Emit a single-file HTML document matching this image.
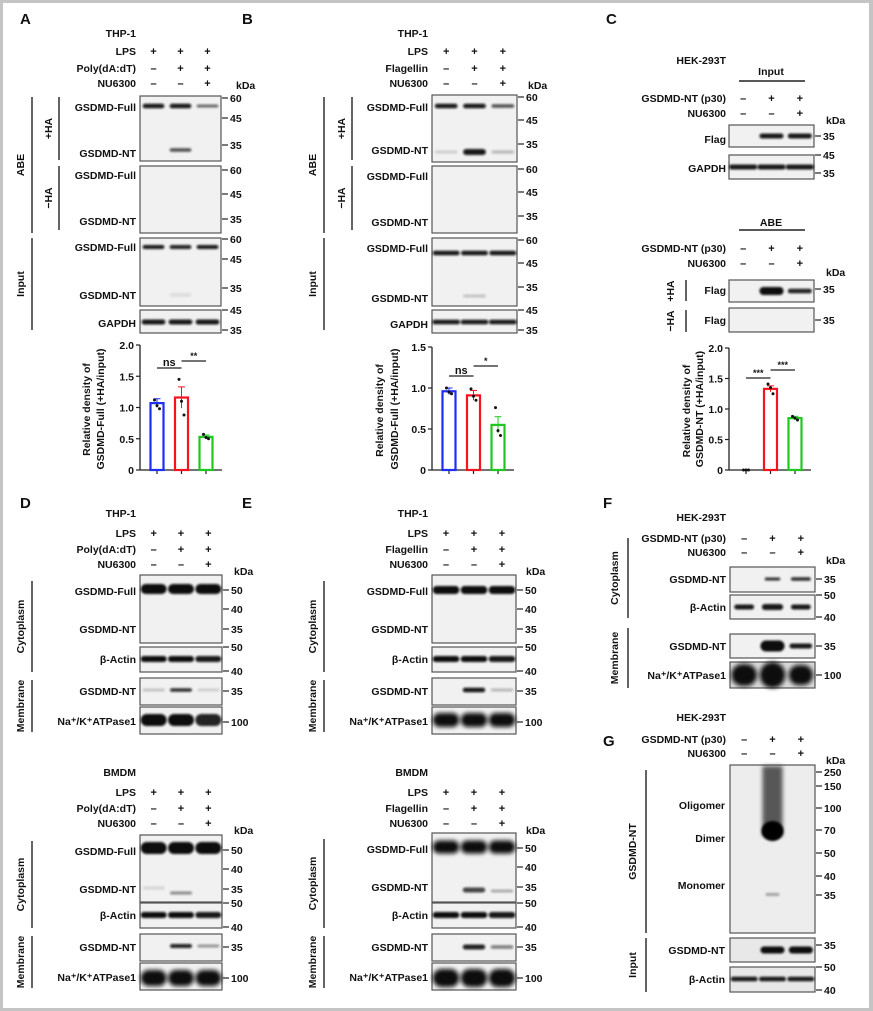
<!DOCTYPE html>
<html><head><meta charset="utf-8"><style>
html,body{margin:0;padding:0;background:#fff}
#wrap{position:absolute;left:0;top:0;width:873px;height:1011px;box-sizing:border-box;border:3px solid #c4c4c4;border-right-width:4px}
svg{position:absolute;left:0;top:0}
text{font-family:"Liberation Sans",Arial,sans-serif;font-weight:bold;fill:#111}
</style></head><body>
<div id="wrap"></div>
<svg id="fig" width="873" height="1011" viewBox="0 0 873 1011">
<defs><filter id="bl" x="-20%" y="-100%" width="140%" height="300%"><feGaussianBlur stdDeviation="1.1"/></filter>
<filter id="bl2" x="-20%" y="-50%" width="140%" height="200%"><feGaussianBlur stdDeviation="2.2"/></filter></defs>
</svg>
<script>
// ---- chart data ----
const catsA = ['LPS', 'LPS+Poly(dA:dT)', 'LPS+Poly(dA:dT)+NU6300'];
const valsA = [1.07, 1.16, 0.53];
const errsA = [0.07, 0.17, 0.03];
const ptsA = [[1.12, 1.03, 0.98], [1.45, 1.10, 0.88], [0.57, 0.52, 0.50]];
const ticksA = [0, 0.5, 1.0, 1.5, 2.0];
const catsB = ['LPS', 'LPS+Flagellin', 'LPS+Flagellin+NU6300'];
const valsB = [0.96, 0.91, 0.55];
const errsB = [0.04, 0.06, 0.10];
const ptsB = [[1.0, 0.95, 0.93], [0.99, 0.90, 0.85], [0.76, 0.48, 0.42]];
const ticksB = [0, 0.5, 1.0, 1.5];
const catsC = ['Control', 'GSDMD-NT', 'GSDMD-NT+NU6300'];
const valsC = [0, 1.33, 0.85];
const errsC = [0, 0.05, 0.03];
const ptsC = [[0, 0, 0], [1.41, 1.35, 1.25], [0.88, 0.85, 0.82]];
const ticksC = [0, 0.5, 1.0, 1.5, 2.0];
const barColors = ['#1d2df5', '#f5141e', '#1ec81e'];

const S = document.getElementById('fig');
const NS = 'http://www.w3.org/2000/svg';
function mk(tag, a) { const e = document.createElementNS(NS, tag); for (const k in a) e.setAttribute(k, a[k]); S.appendChild(e); return e; }
function txt(x, y, s, size, anchor, name, rot) {
  const t = mk('text', { x: x, y: y, 'font-size': size || 10.5, 'text-anchor': anchor || 'end' });
  if (rot) t.setAttribute('transform', 'rotate(-90 ' + x + ' ' + y + ')');
  t.textContent = s;
  
  
  return t;
}
function line(x1, y1, x2, y2, w, name, col) {
  const l = mk('line', { x1: x1, y1: y1, x2: x2, y2: y2, stroke: col || '#222', 'stroke-width': w || 1.3 });
  
  
  return l;
}
function lanes(bx, bw) { return [0, 1, 2].map(i => bx + bw * (i + 0.5) / 3); }
function blot(bx, y, bw, h, bands, name, bg) {
  const r = mk('rect', { x: bx, y: y, width: bw, height: h, fill: bg || '#f1f1f1', stroke: '#555', 'stroke-width': 1.2 });
  
  
  const L = lanes(bx, bw);
  bands.forEach(b => {
    const w = bw / 3 * (b[4] || 0.8);
    const e = mk('rect', { x: L[b[0]] - w / 2, y: b[1] - b[3] / 2, width: w, height: b[3], rx: b[3] / 2, fill: '#0a0a0a', opacity: b[2], filter: b[3] > 12 ? 'url(#bl2)' : 'url(#bl)' });
    
    
  });
}
function kda(bx, ticks) { ticks.forEach(t => { line(bx + 1, t[1], bx + 7, t[1], 1.2, 'kda-tick'); txt(bx + 9, t[1] + 4, t[0], 10.5, 'start', 'kda-label'); }); }
function header(lx, rows, L) {
  rows.forEach(r => {
    txt(lx, r[1] + 4, r[0], 10.5, 'end', 'treatment-label');
    [0, 1, 2].forEach(i => txt(L[i], r[1] + 4, r[2][i] === '+' ? '+' : '–', 11, 'middle', 'treatment-sign'));
  });
}
function bracket(x, y1, y2, label, lx) {
  line(x, y1, x, y2, 1.4, 'bracket');
  txt(lx, (y1 + y2) / 2, label, 10.5, 'middle', 'bracket-label', true);
}
function chart(ax, yTop, y0, ymax, ticks, cats, vals, errs, pts, sig, ylx) {
  const sy = v => y0 - (y0 - yTop) * v / ymax;
  line(ax, yTop, ax, y0, 1.3, 'y-axis');
  ticks.forEach(t => { line(ax - 4, sy(t), ax, sy(t), 1.2, 'y-tick'); txt(ax - 6, sy(t) + 4, t === 0 ? '0' : t.toFixed(1), 10.5, 'end', 'y-tick-label'); });
  line(ax, y0, ax + 82, y0, 1.3, 'x-axis');
  cats.forEach((c, i) => {
    const cx = ax + 17 + i * 24.5;
    line(cx, y0, cx, y0 + 4, 1.2, 'x-tick');
    if (vals[i] > 0) {
      const b = mk('rect', { x: cx - 6.5, y: sy(vals[i]), width: 13, height: y0 - sy(vals[i]), fill: 'none', stroke: barColors[i], 'stroke-width': 2.2 });
      
      
      if (errs[i] > 0) {
        line(cx, sy(vals[i] + errs[i]), cx, sy(vals[i] - errs[i]), 1, 'error-bar', barColors[i]);
        line(cx - 3.5, sy(vals[i] + errs[i]), cx + 3.5, sy(vals[i] + errs[i]), 1, 'error-cap', barColors[i]);
      }
    }
    pts[i].forEach((p, j) => {
      const d = mk('circle', { cx: cx + (j - 1) * 2.5, cy: sy(p), r: 1.5, fill: '#111' });
      
      
    });
  });
  sig.forEach(s => {
    const x1 = ax + 17 + s[0] * 24.5, x2 = ax + 17 + s[1] * 24.5;
    line(x1, s[2], x2, s[2], 1.2, 'significance-line');
    txt((x1 + x2) / 2, s[2] - 2, s[3], s[3] === 'ns' ? 11 : 9, 'middle', 'significance-label');
  });
  txt(ylx, (yTop + y0) / 2 + 2, 'Relative density of', 10.5, 'middle', 'y-axis-title', true);
}

// ---------- Panel A ----------
(function () {
  const bx = 140, bw = 81, L = lanes(bx, bw);
  txt(20, 24, 'A', 15, 'start', 'panel-label-a');
  txt(136, 37, 'THP-1', 10.5, 'end', 'cell-line-label');
  txt(236, 89, 'kDa', 10.5, 'start', 'kda-unit');
  header(136, [['LPS', 51, '+++'], ['Poly(dA:dT)', 68, '-++'], ['NU6300', 83, '--+']], L);
  blot(bx, 96, bw, 65, [[0, 106, 0.95, 4.5], [1, 106, 0.95, 4.5], [2, 106, 0.6, 3], [1, 150, 0.7, 3.5]], 'blot-a-plus-ha');
  blot(bx, 166, bw, 67, [], 'blot-a-minus-ha');
  blot(bx, 238, bw, 68, [[0, 247, 0.95, 4], [1, 247, 0.9, 4], [2, 247, 0.95, 4], [1, 295, 0.08, 4]], 'blot-a-input');
  blot(bx, 310, bw, 23, [[0, 322, 0.95, 5, 0.88], [1, 322, 0.95, 5, 0.88], [2, 322, 0.95, 5, 0.88]], 'blot-a-gapdh');
  kda(221, [['60', 98], ['45', 118], ['35', 145], ['60', 170], ['45', 194], ['35', 219], ['60', 239], ['45', 259], ['35', 288], ['45', 310], ['35', 330]]);
  [['GSDMD-Full', 111], ['GSDMD-NT', 157], ['GSDMD-Full', 179], ['GSDMD-NT', 225], ['GSDMD-Full', 251], ['GSDMD-NT', 299], ['GAPDH', 327]].forEach(r => txt(136, r[1], r[0], 10.5, 'end', 'protein-label'));
  bracket(32, 97, 233, 'ABE', 24); bracket(59, 97, 160, '+HA', 52); bracket(59, 166, 230, '−HA', 52); bracket(32, 238, 330, 'Input', 24);
  chart(140, 345, 470, 2.0, ticksA, catsA, valsA, errsA, ptsA, [[0, 1, 368, 'ns'], [1, 2, 361, '**']], 90);
  txt(104, 409, 'GSDMD-Full (+HA/input)', 10.5, 'middle', 'y-axis-title', true);
})();

// ---------- Panel B ----------
(function () {
  const bx = 432, bw = 85, L = lanes(bx, bw);
  txt(242, 24, 'B', 15, 'start', 'panel-label-b');
  txt(428, 37, 'THP-1', 10.5, 'end', 'cell-line-label');
  txt(528, 89, 'kDa', 10.5, 'start', 'kda-unit');
  header(428, [['LPS', 51, '+++'], ['Flagellin', 68, '-++'], ['NU6300', 83, '--+']], L);
  blot(bx, 95, bw, 67, [[0, 106, 0.95, 4.5], [1, 106, 0.95, 4.5], [2, 106, 0.7, 3.5], [1, 152, 0.95, 6], [0, 152, 0.15, 3], [2, 152, 0.25, 3]], 'blot-b-plus-ha');
  blot(bx, 166, bw, 67, [], 'blot-b-minus-ha');
  blot(bx, 238, bw, 68, [[0, 253, 0.95, 4.5, 0.95], [1, 253, 0.95, 4.5, 0.95], [2, 253, 0.95, 4.5, 0.95], [1, 296, 0.2, 3]], 'blot-b-input');
  blot(bx, 310, bw, 23, [[0, 322, 0.95, 4.5, 0.98], [1, 322, 0.95, 4.5, 0.98], [2, 322, 0.95, 4.5, 0.98]], 'blot-b-gapdh');
  kda(517, [['60', 97], ['45', 120], ['35', 144], ['60', 169], ['45', 192], ['35', 216], ['60', 240], ['45', 263], ['35', 287], ['45', 310], ['35', 330]]);
  [['GSDMD-Full', 111], ['GSDMD-NT', 154], ['GSDMD-Full', 180], ['GSDMD-NT', 226], ['GSDMD-Full', 252], ['GSDMD-NT', 302], ['GAPDH', 328]].forEach(r => txt(428, r[1], r[0], 10.5, 'end', 'protein-label'));
  bracket(324, 97, 233, 'ABE', 316); bracket(352, 97, 160, '+HA', 345); bracket(352, 166, 230, '−HA', 345); bracket(324, 238, 330, 'Input', 316);
  chart(432, 347, 470, 1.5, ticksB, catsB, valsB, errsB, ptsB, [[0, 1, 376, 'ns'], [1, 2, 366, '*']], 383);
  txt(398, 409, 'GSDMD-Full (+HA/input)', 10.5, 'middle', 'y-axis-title', true);
})();

// ---------- Panel C ----------
(function () {
  const bx = 729, bw = 85, L = lanes(bx, bw);
  txt(606, 24, 'C', 15, 'start', 'panel-label-c');
  txt(726, 64, 'HEK-293T', 10.5, 'end', 'cell-line-label');
  txt(771, 75, 'Input', 10.5, 'middle', 'group-label'); line(739, 81, 805, 81, 1.4, 'group-line');
  header(726, [['GSDMD-NT (p30)', 98, '-++'], ['NU6300', 113, '--+']], L);
  txt(826, 124, 'kDa', 10.5, 'start', 'kda-unit');
  blot(bx, 125, bw, 22, [[1, 136, 0.95, 5, 0.85], [2, 136, 0.95, 5, 0.85]], 'blot-c-flag');
  blot(bx, 155, bw, 24, [[0, 167, 0.95, 5, 1], [1, 167, 0.95, 5, 1], [2, 167, 0.95, 5, 1]], 'blot-c-gapdh');
  kda(814, [['35', 136], ['45', 155], ['35', 173]]);
  txt(726, 143, 'Flag', 10.5, 'end', 'protein-label'); txt(726, 172, 'GAPDH', 10.5, 'end', 'protein-label');
  txt(771, 226, 'ABE', 10.5, 'middle', 'group-label'); line(739, 230, 805, 230, 1.4, 'group-line');
  header(726, [['GSDMD-NT (p30)', 248, '-++'], ['NU6300', 263, '--+']], L);
  txt(826, 276, 'kDa', 10.5, 'start', 'kda-unit');
  blot(bx, 280, bw, 22, [[1, 291, 1, 8, 0.85], [2, 291, 0.9, 4.5, 0.85]], 'blot-c-plus-ha');
  blot(bx, 308, bw, 24, [], 'blot-c-minus-ha');
  kda(814, [['35', 289], ['35', 320]]);
  txt(726, 294, 'Flag', 10.5, 'end', 'protein-label'); txt(726, 324, 'Flag', 10.5, 'end', 'protein-label');
  line(686, 280, 686, 301, 1.4, 'bracket'); txt(674, 291, '+HA', 10.5, 'middle', 'bracket-label', true);
  line(686, 310, 686, 332, 1.4, 'bracket'); txt(674, 321, '−HA', 10.5, 'middle', 'bracket-label', true);
  chart(729, 348, 470, 2.0, ticksC, catsC, valsC, errsC, ptsC, [[0, 1, 378, '***'], [1, 2, 370, '***']], 690);
  txt(703, 409, 'GSDMD-NT (+HA/input)', 10.5, 'middle', 'y-axis-title', true);
})();

// ---------- Panels D & E ----------
function fracPanel(letter, lx, bx, bw, stim, tops, bandsSet) {
  const L = lanes(bx, bw);
  txt(lx, 508, letter, 15, 'start', 'panel-label-' + letter.toLowerCase());
  tops.forEach((t, k) => {
    const o = t.o, rl = bx - 4;
    txt(rl, o + 4, k === 0 ? 'THP-1' : 'BMDM', 10.5, 'end', 'cell-line-label');
    header(rl, [['LPS', o + 20, '+++'], [stim, o + 36, '-++'], ['NU6300', o + 51, '--+']], L);
    txt(bx + 94, o + 62, 'kDa', 10.5, 'start', 'kda-unit');
    const b = bandsSet[k];
    blot(bx, t.b1, bw, t.b1h, b[0], 'blot-cytoplasm-gsdmd');
    blot(bx, t.b2, bw, 25, b[1], 'blot-beta-actin');
    blot(bx, t.b3, bw, 27, b[2], 'blot-membrane-gsdmd-nt');
    blot(bx, t.b4, bw, 27, b[3], 'blot-atpase');
    kda(bx + bw, [['50', t.b1 + 15], ['40', t.b1 + 34], ['35', t.b1 + 54], ['50', t.b2], ['40', t.b2 + 24], ['35', t.b3 + 13], ['100', t.b4 + 15]]);
    txt(rl, t.b1 + 20, 'GSDMD-Full', 10.5, 'end', 'protein-label');
    txt(rl, t.b1 + 58, 'GSDMD-NT', 10.5, 'end', 'protein-label');
    txt(rl, t.b2 + 16, 'β-Actin', 10.5, 'end', 'protein-label');
    txt(rl, t.b3 + 17, 'GSDMD-NT', 10.5, 'end', 'protein-label');
    txt(rl, t.b4 + 18, 'Na⁺/K⁺ATPase1', 10.5, 'end', 'protein-label');
    bracket(bx - 108, t.b1 + 6, t.b2 + 25, 'Cytoplasm', bx - 116);
    bracket(bx - 108, t.b3 + 2, t.b4 + 25, 'Membrane', bx - 116);
  });
}
const full = (y, h, i) => [[0, y, 1, h, 0.95], [1, y, 1, h, 0.95], [2, y, i, h, 0.95]];
fracPanel('D', 20, 140, 82, 'Poly(dA:dT)',
  [{ o: 513, b1: 575, b1h: 68, b2: 647, b3: 678, b4: 707 }, { o: 772, b1: 835, b1h: 67, b2: 903, b3: 934, b4: 963 }],
  [[full(589, 10, 1), full(659, 6, 0.95), [[0, 690, 0.2, 3], [1, 690, 0.85, 3.5], [2, 690, 0.15, 3]], full(720, 12, 0.9)],
   [full(848, 12, 1).concat([[1, 893, 0.45, 3], [0, 888, 0.12, 3]]), full(915, 6, 0.95), [[1, 946, 0.9, 4], [2, 946, 0.4, 3]], full(978, 16, 1)]]);
fracPanel('E', 242, 432, 84, 'Flagellin',
  [{ o: 513, b1: 575, b1h: 68, b2: 647, b3: 678, b4: 707 }, { o: 772, b1: 833, b1h: 69, b2: 903, b3: 934, b4: 963 }],
  [[full(590, 8, 1), full(659, 6, 0.95), [[1, 690, 0.95, 4.5], [2, 690, 0.25, 3]], full(720, 14, 1)],
   [full(847, 13, 1).concat([[1, 890, 0.75, 5], [2, 891, 0.3, 3]]), full(915, 6, 0.95), [[1, 947, 0.9, 5], [2, 947, 0.5, 3.5]], full(978, 18, 1)]]);

// ---------- Panel F ----------
(function () {
  const bx = 730, bw = 85, L = lanes(bx, bw);
  txt(603, 508, 'F', 15, 'start', 'panel-label-f');
  txt(726, 521, 'HEK-293T', 10.5, 'end', 'cell-line-label');
  header(726, [['GSDMD-NT (p30)', 538, '-++'], ['NU6300', 552, '--+']], L);
  txt(826, 564, 'kDa', 10.5, 'start', 'kda-unit');
  blot(bx, 567, bw, 25, [[1, 579, 0.85, 3, 0.55], [2, 579, 0.85, 3.5, 0.7]], 'blot-f-cytoplasm-nt');
  blot(bx, 595, bw, 24, [[0, 607, 0.95, 5, 0.7], [1, 607, 0.95, 6, 0.75], [2, 607, 0.95, 5, 0.7]], 'blot-f-actin');
  blot(bx, 634, bw, 24, [[1, 646, 1, 11, 0.85], [2, 646, 0.95, 5, 0.8]], 'blot-f-membrane-nt');
  blot(bx, 662, bw, 26, [[0, 675, 1, 22, 0.9], [1, 675, 1, 26, 0.9], [2, 675, 1, 20, 0.85]], 'blot-f-atpase', '#d8d8d8');
  kda(815, [['35', 579], ['50', 595], ['40', 617], ['35', 646], ['100', 675]]);
  txt(726, 583, 'GSDMD-NT', 10.5, 'end', 'protein-label'); txt(726, 611, 'β-Actin', 10.5, 'end', 'protein-label');
  txt(726, 650, 'GSDMD-NT', 10.5, 'end', 'protein-label'); txt(726, 679, 'Na⁺/K⁺ATPase1', 10.5, 'end', 'protein-label');
  bracket(628, 538, 618, 'Cytoplasm', 618); bracket(628, 628, 688, 'Membrane', 618);
})();

// ---------- Panel G ----------
(function () {
  const bx = 730, bw = 85, L = lanes(bx, bw);
  txt(603, 746, 'G', 15, 'start', 'panel-label-g');
  txt(726, 721, 'HEK-293T', 10.5, 'end', 'cell-line-label');
  header(726, [['GSDMD-NT (p30)', 739, '-++'], ['NU6300', 753, '--+']], L);
  txt(826, 764, 'kDa', 10.5, 'start', 'kda-unit');
  blot(bx, 765, bw, 168, [], 'blot-g-oligomer', '#ededed');
  const smear = mk('rect', { x: L[1] - 10, y: 766, width: 20, height: 70, fill: '#333', opacity: 0.8, filter: 'url(#bl2)' });
  
  
  const dimer = mk('ellipse', { cx: L[1], cy: 831, rx: 11, ry: 10, fill: '#050505', filter: 'url(#bl)' });
  
  
  const mono = mk('rect', { x: L[1] - 7, y: 893, width: 14, height: 3, rx: 1.5, fill: '#333', opacity: 0.4, filter: 'url(#bl)' });
  
  
  kda(815, [['250', 772], ['150', 786], ['100', 808], ['70', 830], ['50', 853], ['40', 876], ['35', 895]]);
  txt(725, 809, 'Oligomer', 10.5, 'end', 'protein-label'); txt(725, 842, 'Dimer', 10.5, 'end', 'protein-label'); txt(725, 889, 'Monomer', 10.5, 'end', 'protein-label');
  blot(bx, 938, bw, 24, [[1, 950, 1, 7, 0.85], [2, 950, 1, 7, 0.85]], 'blot-g-input-nt', '#e8e8e8');
  blot(bx, 967, bw, 25, [[0, 979, 0.95, 4.5, 0.95], [1, 979, 0.95, 4.5, 0.95], [2, 979, 0.95, 4.5, 0.95]], 'blot-g-actin', '#e8e8e8');
  kda(815, [['35', 945], ['50', 967], ['40', 990]]);
  txt(725, 954, 'GSDMD-NT', 10.5, 'end', 'protein-label'); txt(725, 983, 'β-Actin', 10.5, 'end', 'protein-label');
  bracket(646, 770, 933, 'GSDMD-NT', 636); bracket(646, 938, 992, 'Input', 636);
})();
</script>
</body></html>
